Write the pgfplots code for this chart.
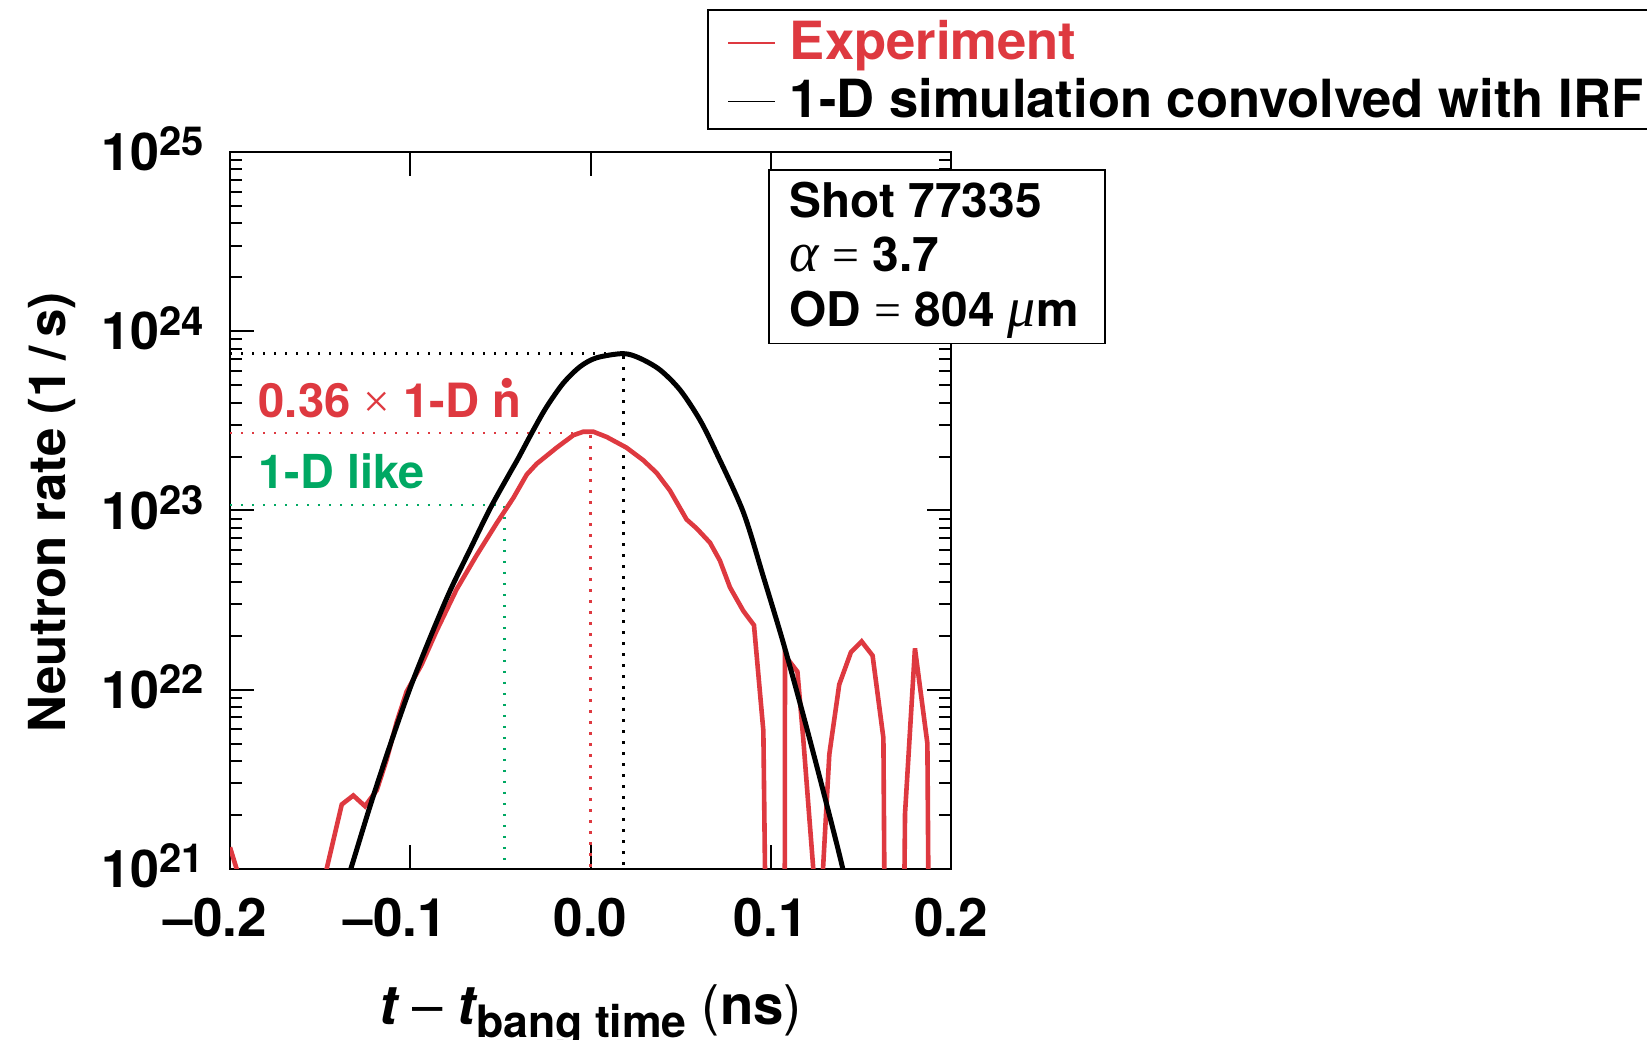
\documentclass[border=0pt]{standalone}
\usepackage{fontspec}
\setmainfont{TeX Gyre Heros}
\newfontfamily\symfont{Liberation Serif}
\usepackage{pgfplots}
\pgfplotsset{compat=1.18}
\definecolor{expred}{RGB}{222,57,64}
\definecolor{likegreen}{RGB}{0,168,99}
\newcommand{\ytl}[1]{\fontsize{26}{26}\selectfont\bfseries 10\raisebox{7.3pt}[0pt][0pt]{\fontsize{20}{20}\selectfont #1}}
\newcommand{\ndot}{\ooalign{n\cr\hidewidth\raisebox{15.3pt}[0pt][0pt]{\symfont\bfseries\fontsize{31}{31}\selectfont .}\hidewidth\cr}}

\begin{document}
\begin{tikzpicture}[x=1pt,y=1pt]
\useasboundingbox (0,0) rectangle (823.5,-519.5);
\begin{axis}[
  at={(115pt,-434.5pt)}, anchor=south west,
  scale only axis, width=360.5pt, height=358.5pt,
  xmin=-0.2, xmax=0.2, ymode=log, ymin=1e21, ymax=1e25,
  clip mode=individual,
  xtick={-0.2,-0.1,0,0.1,0.2},
  xticklabels={\llap{–}0.2, \llap{–}0.1, 0.0, 0.1, 0.2},
  ytick={1e21,1e22,1e23,1e24,1e25},
  yticklabels={\ytl{21},\ytl{22},\ytl{23},\ytl{24},\ytl{25}},
  major tick length=12pt, minor tick length=6pt,
  tick style={line width=1pt, black},
  axis line style={line width=1pt},
  xticklabel style={font=\fontsize{26.5}{26.5}\selectfont\bfseries, inner sep=0pt, anchor=north, yshift=-14.5pt},
  yticklabel style={inner sep=0pt, anchor=east, xshift=-13pt},
  xlabel={\fontsize{27.3}{27.3}\selectfont\bfseries\itshape t\upshape\ {\mdseries –}\ \itshape t\upshape\raisebox{-6.25pt}{\fontsize{22.3}{22.3}\selectfont bang time}\ {\mdseries(}ns{\mdseries)}},
  xlabel style={at={(axis description cs:0.5,-0.2176)}, anchor=base},
  ylabel={\fontsize{25.5}{25.5}\selectfont\bfseries Neutron rate (1\,/\,s)},
  ylabel style={at={(axis description cs:-0.2288,0.497)}, anchor=base},
  legend cell align=left,
  legend style={at={(axis description cs:0.6612,1.199)}, anchor=north west,
    draw=black, line width=0.9pt, fill=white,
    inner xsep=10pt, inner ysep=0pt, row sep=-1.1pt, column sep=7pt,
    font=\fontsize{26.3}{26.3}\selectfont\bfseries,
    cells={anchor=base west},
    nodes={text height=24.5pt, text depth=5.8pt, inner sep=0pt}},
  legend image code/.code={\draw[#1, line width=0.85pt] (0pt,8pt) -- (23.3pt,8pt);},
]
% dotted guide lines
\addplot[forget plot, black, line width=1.2pt, dash pattern=on 1.2pt off 4.3pt] coordinates {(-0.2,7.50e23) (0.0182,7.50e23) (0.0182,1e19)};
\addplot[forget plot, expred, line width=1.2pt, dash pattern=on 1.2pt off 4.3pt] coordinates {(-0.2,2.71e23) (0.0,2.71e23) (0.0,1e19)};
\addplot[forget plot, likegreen, line width=1.2pt, dash pattern=on 1.2pt off 4.3pt] coordinates {(-0.2,1.07e23) (-0.0478,1.07e23) (-0.0478,1e19)};

% experiment
\addplot[expred, line width=2.3pt, line join=miter] coordinates {
(-0.2,1.32e21) (-0.1963,1e21) (-0.1963,1e19) (-0.1464,1e19) (-0.1464,1e21)
(-0.138,2.29e21) (-0.1316,2.57e21) (-0.1251,2.24e21) (-0.1186,2.75e21)
(-0.1131,4.07e21) (-0.1075,6.61e21) (-0.102,9.77e21) (-0.0937,1.38e22)
(-0.0853,2.14e22) (-0.0743,3.63e22) (-0.0632,5.62e22) (-0.052,8.51e22)
(-0.0428,1.175e23) (-0.0354,1.585e23) (-0.0299,1.82e23) (-0.0188,2.24e23)
(-0.0095,2.63e23) (-0.004,2.75e23) (0.0016,2.75e23) (0.009,2.57e23)
(0.020,2.24e23) (0.0293,1.905e23) (0.0367,1.62e23) (0.0441,1.29e23)
(0.0533,8.91e22) (0.0589,7.94e22) (0.0663,6.61e22) (0.0718,5.25e22)
(0.0774,3.72e22) (0.0848,2.75e22) (0.0907,2.29e22) (0.0959,5.89e21)
(0.0968,1e21) (0.0968,1e19) (0.1076,1e19) (0.1079,1.55e22)
(0.1148,1.26e22) (0.118,5.37e21) (0.1236,1e21) (0.1236,1e19)
(0.129,1e19) (0.129,1e21) (0.1325,4.37e21) (0.138,1.07e22)
(0.1445,1.62e22) (0.1504,1.86e22) (0.1565,1.55e22) (0.1625,5.37e21)
(0.163,1e21) (0.163,1e19) (0.1742,1e19) (0.1742,1e21) (0.1745,2.04e21)
(0.180,1.70e22) (0.1869,5.01e21) (0.1874,1e21) (0.1874,1e19)
};
\addlegendentry{\textcolor{expred}{Experiment}}

% simulation
\addplot[black, line width=2.5pt, smooth] coordinates {
(-0.141,5.62e20) (-0.133,1e21) (-0.1223,2.24e21) (-0.1112,4.90e21)
(-0.1001,1.02e22) (-0.089,1.95e22) (-0.078,3.55e22) (-0.0669,6.03e22)
(-0.0558,1.02e23) (-0.0447,1.62e23) (-0.0401,1.954e23) (-0.0317,2.81e23)
(-0.0243,3.79e23) (-0.0151,5.13e23) (-0.0058,6.34e23) (0.0034,7.11e23)
(0.0182,7.50e23) (0.0275,7.06e23) (0.0386,6.08e23) (0.0497,4.70e23)
(0.0607,3.20e23) (0.070,2.08e23) (0.0848,9.77e22) (0.0959,4.27e22)
(0.107,1.82e22) (0.118,7.24e21) (0.129,2.75e21) (0.140,1e21) (0.146,5.0e20)
};
\addlegendentry{1-D simulation convolved with IRF\hspace*{30pt}}

% annotations
\node[anchor=base west, inner sep=0pt, text=expred, font=\fontsize{23.6}{23.6}\selectfont\bfseries] at (axis description cs:0.0393,0.6294) {0.36 {\mdseries\symfont ×} 1-D \ndot};
\node[anchor=base west, inner sep=0pt, text=likegreen, font=\fontsize{23.4}{23.4}\selectfont\bfseries] at (axis description cs:0.0393,0.5305) {1-D like};

% info box
\node[draw=black, line width=0.9pt, fill=white, inner sep=0pt, minimum width=167.9pt, minimum height=86.7pt, anchor=north west] at (axis description cs:0.7466,0.9759) {};
\node[anchor=base west, inner sep=0pt, font=\fontsize{23.9}{23.9}\selectfont\bfseries] at (axis description cs:0.7757,0.9089) {Shot 77335};
\node[anchor=base west, inner sep=0pt, font=\fontsize{23.9}{23.9}\selectfont\bfseries] at (axis description cs:0.7757,0.8331) {{\mdseries\symfont\itshape\fontsize{28}{28}\selectfont α} {\mdseries\symfont =} 3.7};
\node[anchor=base west, inner sep=0pt, font=\fontsize{23.9}{23.9}\selectfont\bfseries] at (axis description cs:0.7757,0.7563) {OD {\mdseries\symfont =} 804 {\mdseries\symfont\itshape\fontsize{28}{28}\selectfont μ}m};
\end{axis}
\end{tikzpicture}
\end{document}
